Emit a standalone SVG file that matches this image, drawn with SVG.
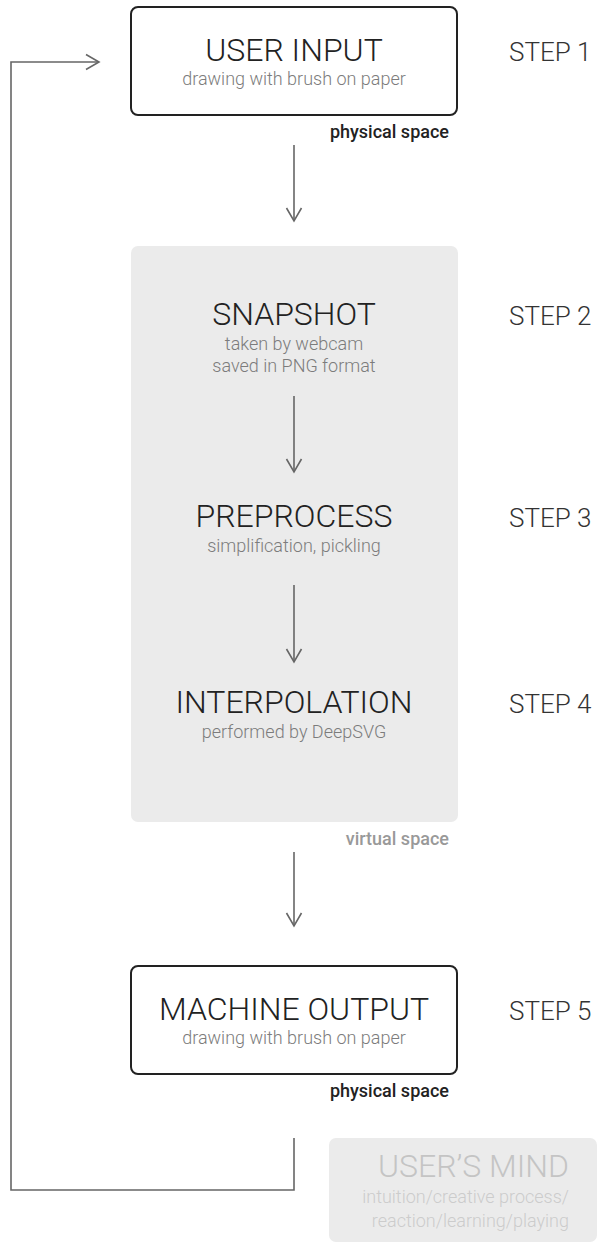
<svg xmlns="http://www.w3.org/2000/svg" width="599" height="1243" viewBox="0 0 599 1243">
  <style>
    .box { fill: #ffffff; stroke: #222222; stroke-width: 2; }
    .panel { fill: #ebebeb; }
    .title { font-family: Roboto, "Liberation Sans", sans-serif; font-weight: 300; font-size: 32px; fill: #222222; text-anchor: middle; }
    .sub { font-family: Roboto, "Liberation Sans", sans-serif; font-weight: 300; font-size: 18px; fill: #7c7c7c; text-anchor: middle; }
    .step { font-family: Roboto, "Liberation Sans", sans-serif; font-weight: 300; font-size: 26px; fill: #333333; }
    .space { font-family: Roboto, "Liberation Sans", sans-serif; font-weight: 500; font-size: 18px; text-anchor: end; }
    .mind-title { font-family: Roboto, "Liberation Sans", sans-serif; font-weight: 300; font-size: 32px; fill: #c4c4c4; text-anchor: end; }
    .mind-sub { font-family: Roboto, "Liberation Sans", sans-serif; font-weight: 300; font-size: 18px; fill: #cccccc; text-anchor: end; }
    .link { fill: none; stroke: #666666; stroke-width: 1.6; }
  </style>
  <defs>
    <marker id="open-arrow" markerUnits="userSpaceOnUse" markerWidth="20" markerHeight="20" viewBox="-15 -10 17 20" refX="0" refY="0" orient="auto">
      <path d="M-13,-7.5 L0,0 L-13,7.5" fill="none" stroke="#666666" stroke-width="1.6"/>
    </marker>
  </defs>

  <!-- virtual space panel -->
  <g id="virtual-space">
    <rect class="panel" x="131" y="246" width="327" height="576" rx="7"/>
    <text class="space" x="449" y="845" fill="#999999">virtual space</text>
  </g>

  <!-- step 1 -->
  <g id="user-input">
    <rect class="box" x="131" y="7" width="326" height="108" rx="7"/>
    <text class="title" x="294" y="61">USER INPUT</text>
    <text class="sub" x="294" y="85">drawing with brush on paper</text>
    <text class="space" x="449" y="138" fill="#222222">physical space</text>
    <text class="step" x="509" y="61">STEP 1</text>
  </g>

  <!-- step 2 -->
  <g id="snapshot">
    <text class="title" x="294" y="325">SNAPSHOT</text>
    <text class="sub" x="294" y="350">taken by webcam</text>
    <text class="sub" x="294" y="372">saved in PNG format</text>
    <text class="step" x="509" y="325">STEP 2</text>
  </g>

  <!-- step 3 -->
  <g id="preprocess">
    <text class="title" x="294" y="527">PREPROCESS</text>
    <text class="sub" x="294" y="552">simplification, pickling</text>
    <text class="step" x="509" y="527">STEP 3</text>
  </g>

  <!-- step 4 -->
  <g id="interpolation">
    <text class="title" x="294" y="713">INTERPOLATION</text>
    <text class="sub" x="294" y="738">performed by DeepSVG</text>
    <text class="step" x="509" y="713">STEP 4</text>
  </g>

  <!-- step 5 -->
  <g id="machine-output">
    <rect class="box" x="131" y="966" width="326" height="108" rx="7"/>
    <text class="title" x="294" y="1020">MACHINE OUTPUT</text>
    <text class="sub" x="294" y="1044">drawing with brush on paper</text>
    <text class="space" x="449" y="1097" fill="#222222">physical space</text>
    <text class="step" x="509" y="1020">STEP 5</text>
  </g>

  <!-- feedback source -->
  <g id="users-mind">
    <rect class="panel" x="329" y="1138" width="268" height="104" rx="7"/>
    <text class="mind-title" x="569" y="1177">USER’S MIND</text>
    <text class="mind-sub" x="569" y="1203">intuition/creative process/</text>
    <text class="mind-sub" x="569" y="1227">reaction/learning/playing</text>
  </g>

  <!-- connectors -->
  <g id="connectors">
    <path class="link" d="M294,145 V221" marker-end="url(#open-arrow)"/>
    <path class="link" d="M294,396 V472" marker-end="url(#open-arrow)"/>
    <path class="link" d="M294,585 V662" marker-end="url(#open-arrow)"/>
    <path class="link" d="M294,852 V926" marker-end="url(#open-arrow)"/>
    <path class="link" d="M294,1138 V1190 H11 V62 H99" marker-end="url(#open-arrow)"/>
  </g>
</svg>
